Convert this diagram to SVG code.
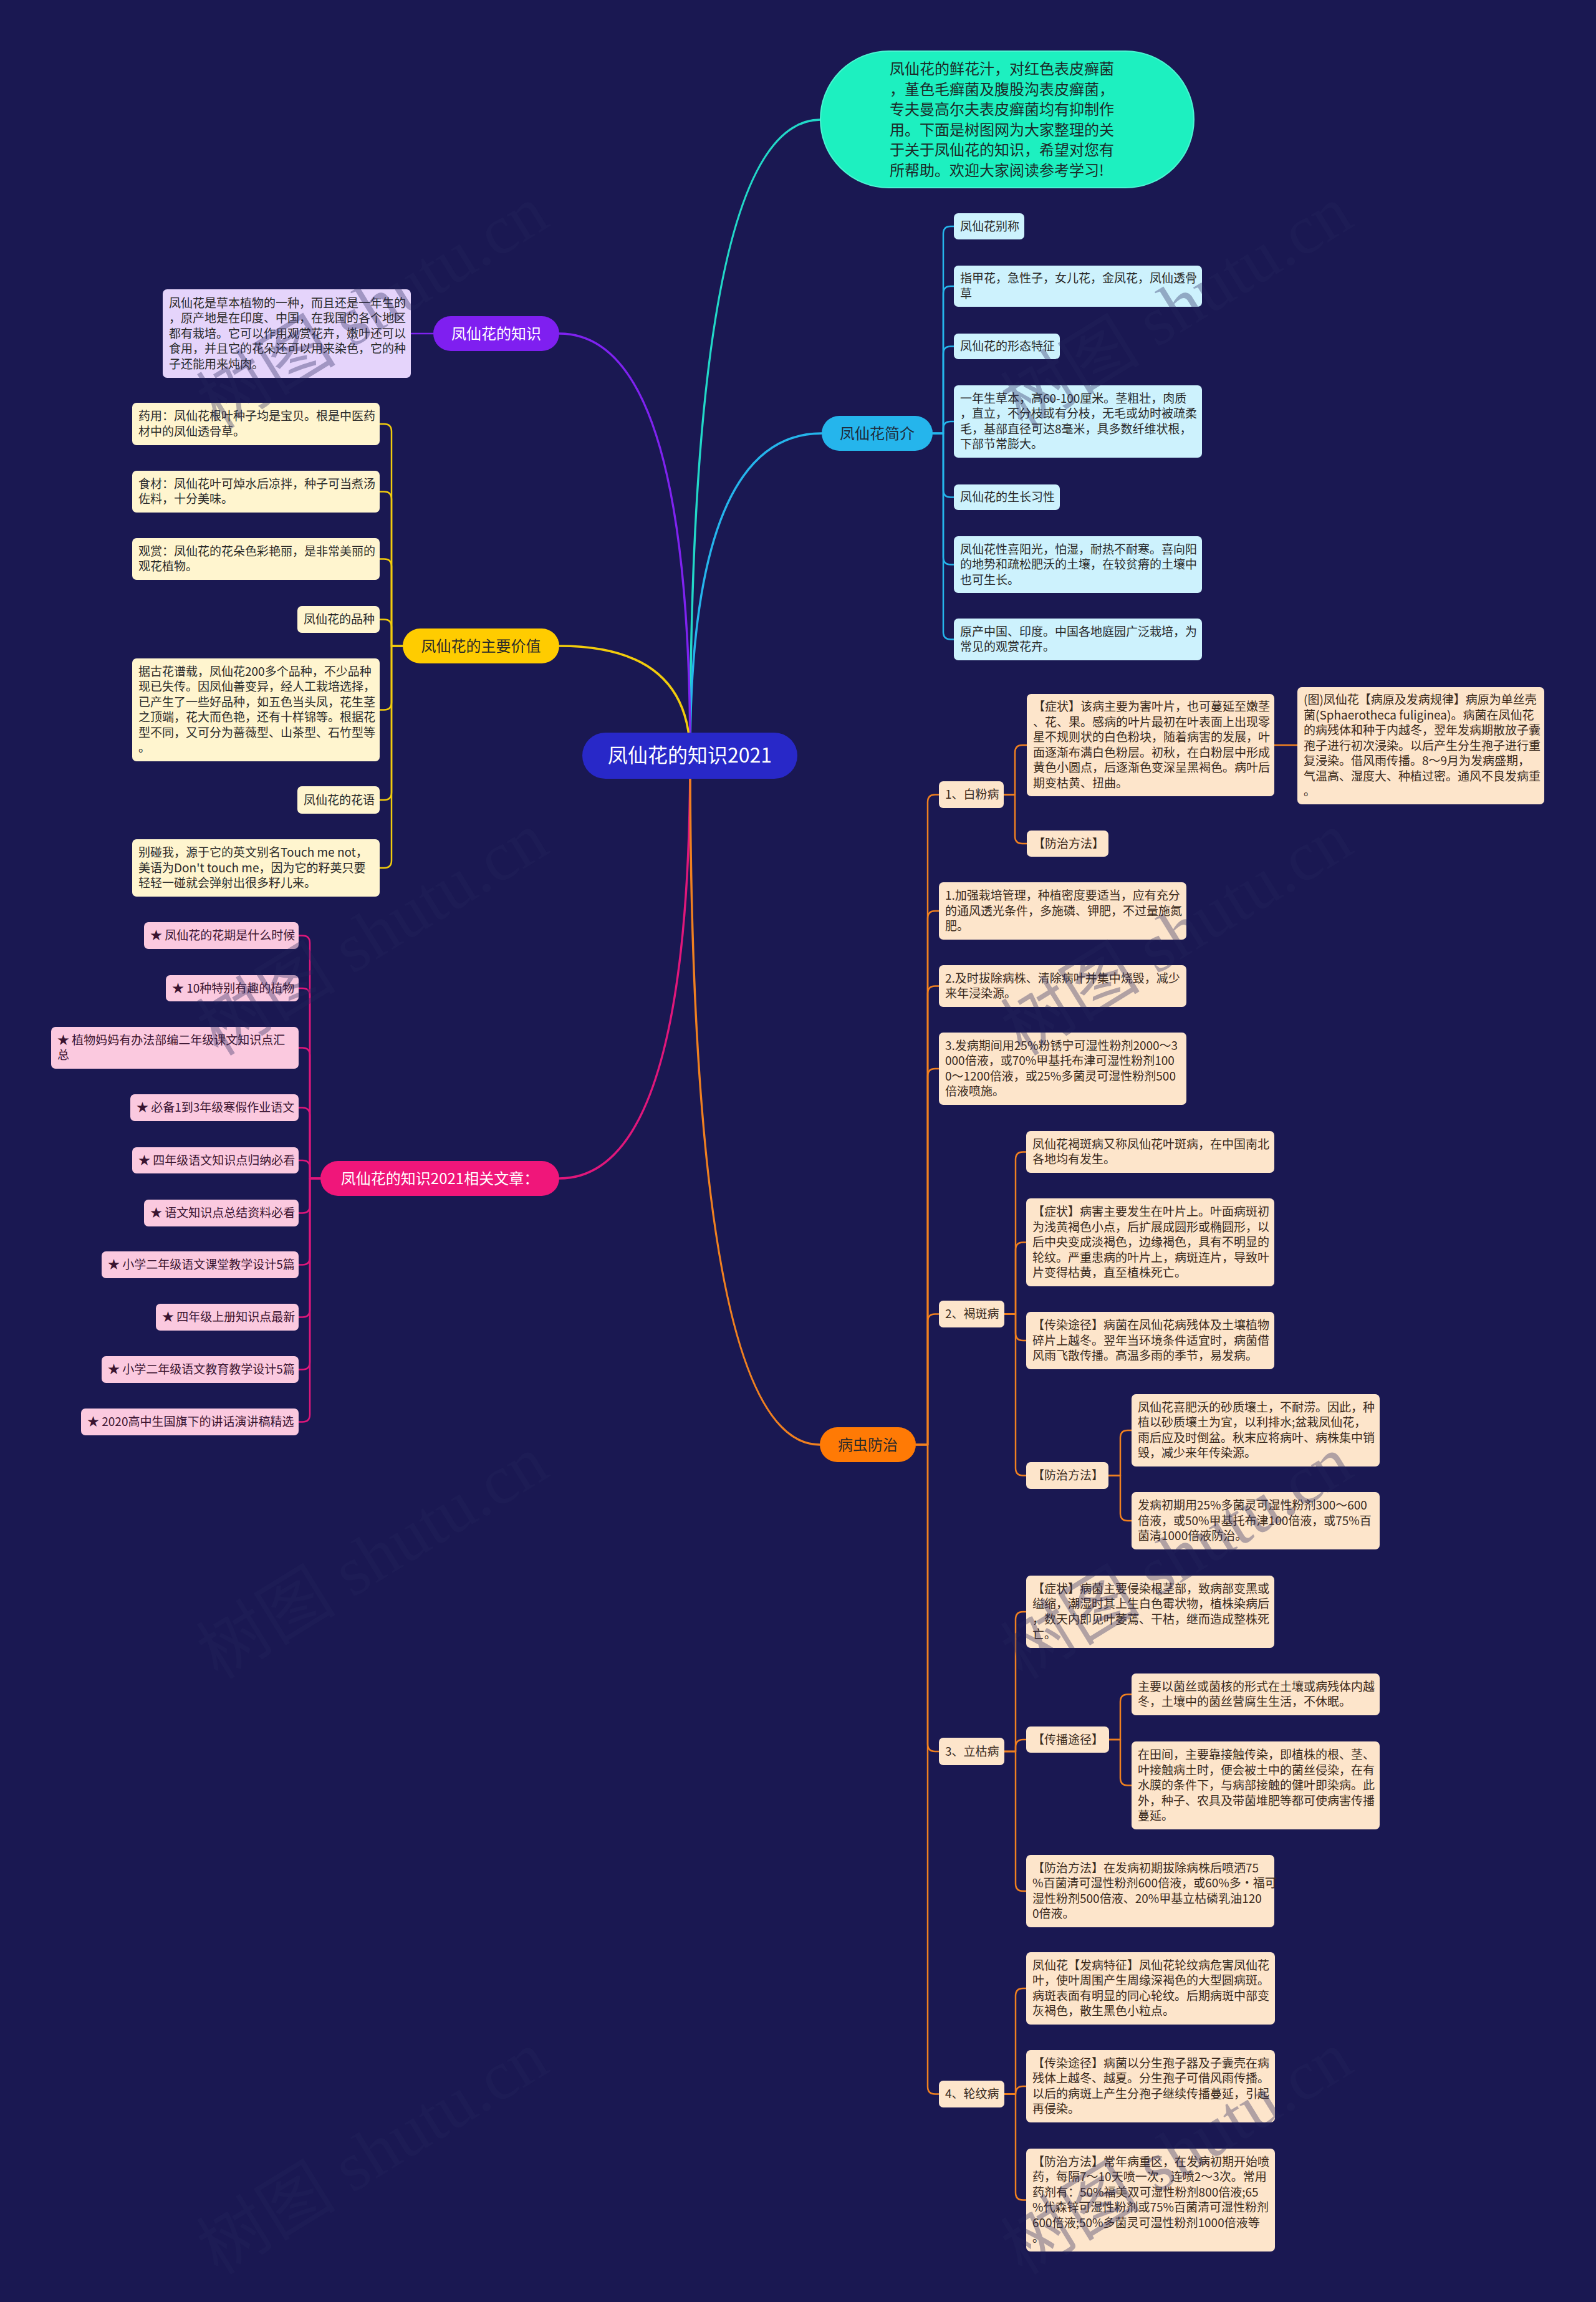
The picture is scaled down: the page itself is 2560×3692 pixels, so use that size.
<svg xmlns="http://www.w3.org/2000/svg" width="2560" height="3692" viewBox="0 0 2560 3692">
<style>
.t{font-family:"Noto Sans CJK SC","Noto Sans",sans-serif;font-size:19px;fill:#2a2a2a}
.to{font-family:"Noto Sans CJK SC","Noto Sans",sans-serif;font-size:19px;fill:#3a2a1c}
.tp{font-family:"Noto Sans CJK SC","Noto Sans",sans-serif;font-size:19px;fill:#3a1430}
.n{font-family:"Noto Sans CJK SC","Noto Sans",sans-serif;font-size:24px;text-anchor:middle}
.root{font-family:"Noto Sans CJK SC","Noto Sans",sans-serif;font-size:32px;text-anchor:middle;fill:#ffffff}
.intro{font-family:"Noto Sans CJK SC","Noto Sans",sans-serif;font-size:24px;fill:#1c2a28}
.lc{fill:#cdf2fd}
.lv{fill:#e5d4fb}
.ly{fill:#fff5cf}
.lp{fill:#fbc9df}
.lo{fill:#fde5cb}
.c{fill:none;stroke-linecap:round;stroke-linejoin:round}
.main{stroke-width:3.5}
.sub{stroke-width:2.5}
.wm{font-family:"Liberation Serif","Noto Sans CJK SC",serif;font-size:112px;fill:#25255c;opacity:0.35}
</style>
<rect x="0" y="0" width="2560" height="3692" fill="#1a1852"/>

<g id="connectors">
  <path class="c main" stroke="#22d8c8" d="M1107 1212 Q1107 192 1316 192"/>
  <path class="c main" stroke="#25b5ec" d="M1107 1212 Q1107 695 1318 695"/>
  <path class="c main" stroke="#7f22f0" d="M1107 1212 Q1107 535 897 535"/>
  <path class="c main" stroke="#f2cc0c" d="M1107 1212 Q1107 1036 897 1036"/>
  <path class="c main" stroke="#e0177b" d="M1107 1212 Q1107 1890 897 1890"/>
  <path class="c main" stroke="#f08020" d="M1107 1212 Q1107 2317 1315 2317"/>

  <path class="c sub" stroke="#7f22f0" d="M695 535 H659"/>

  <g stroke="#25b5ec">
    <path class="c sub" d="M1496 695 H1513 V375 Q1513 363 1525 363 H1530"/>
    <path class="c sub" d="M1496 695 H1513 V471 Q1513 459 1525 459 H1530"/>
    <path class="c sub" d="M1496 695 H1513 V567.5 Q1513 555.5 1525 555.5 H1530"/>
    <path class="c sub" d="M1496 695 H1513 V688 Q1513 676 1525 676 H1530"/>
    <path class="c sub" d="M1496 695 H1513 V785.5 Q1513 797.5 1525 797.5 H1530"/>
    <path class="c sub" d="M1496 695 H1513 V893.5 Q1513 905.5 1525 905.5 H1530"/>
    <path class="c sub" d="M1496 695 H1513 V1013.5 Q1513 1025.5 1525 1025.5 H1530"/>
  </g>

  <g stroke="#f2cc0c">
    <path class="c sub" d="M646 1036 H628 V692 Q628 680 616 680 H609"/>
    <path class="c sub" d="M646 1036 H628 V800.5 Q628 788.5 616 788.5 H609"/>
    <path class="c sub" d="M646 1036 H628 V908.5 Q628 896.5 616 896.5 H609"/>
    <path class="c sub" d="M646 1036 H628 V1005.5 Q628 993.5 616 993.5 H609"/>
    <path class="c sub" d="M646 1036 H628 V1126.5 Q628 1138.5 616 1138.5 H609"/>
    <path class="c sub" d="M646 1036 H628 V1271 Q628 1283 616 1283 H609"/>
    <path class="c sub" d="M646 1036 H628 V1380 Q628 1392 616 1392 H609"/>
  </g>

  <g stroke="#e0177b">
    <path class="c sub" d="M514 1890 H497 V1512.5 Q497 1500.5 485 1500.5 H479"/>
    <path class="c sub" d="M514 1890 H497 V1597 Q497 1585 485 1585 H479"/>
    <path class="c sub" d="M514 1890 H497 V1692.5 Q497 1680.5 485 1680.5 H479"/>
    <path class="c sub" d="M514 1890 H497 V1788.5 Q497 1776.5 485 1776.5 H479"/>
    <path class="c sub" d="M514 1890 H497 V1873 Q497 1861 485 1861 H479"/>
    <path class="c sub" d="M514 1890 H497 V1933.5 Q497 1945.5 485 1945.5 H479"/>
    <path class="c sub" d="M514 1890 H497 V2016.5 Q497 2028.5 485 2028.5 H479"/>
    <path class="c sub" d="M514 1890 H497 V2100.5 Q497 2112.5 485 2112.5 H479"/>
    <path class="c sub" d="M514 1890 H497 V2184.5 Q497 2196.5 485 2196.5 H479"/>
    <path class="c sub" d="M514 1890 H497 V2268.5 Q497 2280.5 485 2280.5 H479"/>
  </g>

  <g stroke="#f08020">
    <path class="c sub" d="M1469 2317 H1488 V1286.5 Q1488 1274.5 1500 1274.5 H1506"/>
    <path class="c sub" d="M1469 2317 H1488 V1473 Q1488 1461 1500 1461 H1506"/>
    <path class="c sub" d="M1469 2317 H1488 V1593.5 Q1488 1581.5 1500 1581.5 H1506"/>
    <path class="c sub" d="M1469 2317 H1488 V1726 Q1488 1714 1500 1714 H1506"/>
    <path class="c sub" d="M1469 2317 H1488 V2119.5 Q1488 2107.5 1500 2107.5 H1506"/>
    <path class="c sub" d="M1469 2317 H1488 V2797 Q1488 2809 1500 2809 H1506"/>
    <path class="c sub" d="M1469 2317 H1488 V3346.5 Q1488 3358.5 1500 3358.5 H1506"/>

    <path class="c sub" d="M1610 1274.5 H1628 V1207 Q1628 1195 1640 1195 H1647"/>
    <path class="c sub" d="M1610 1274.5 H1628 V1341 Q1628 1353 1640 1353 H1647"/>
    <path class="c sub" d="M2044 1195 H2081"/>

    <path class="c sub" d="M1611 2107.5 H1629 V1859.5 Q1629 1847.5 1641 1847.5 H1646"/>
    <path class="c sub" d="M1611 2107.5 H1629 V2004.5 Q1629 1992.5 1641 1992.5 H1646"/>
    <path class="c sub" d="M1611 2107.5 H1629 V2138 Q1629 2150 1641 2150 H1646"/>
    <path class="c sub" d="M1611 2107.5 H1629 V2354.5 Q1629 2366.5 1641 2366.5 H1646"/>
    <path class="c sub" d="M1778 2366.5 H1797 V2306 Q1797 2294 1809 2294 H1815"/>
    <path class="c sub" d="M1778 2366.5 H1797 V2427 Q1797 2439 1809 2439 H1815"/>

    <path class="c sub" d="M1611 2809 H1629 V2597 Q1629 2585 1641 2585 H1646"/>
    <path class="c sub" d="M1611 2809 H1629 V2802 Q1629 2790 1641 2790 H1646"/>
    <path class="c sub" d="M1611 2809 H1629 V3021 Q1629 3033 1641 3033 H1646"/>
    <path class="c sub" d="M1779 2790 H1797 V2729.5 Q1797 2717.5 1809 2717.5 H1815"/>
    <path class="c sub" d="M1779 2790 H1797 V2851.5 Q1797 2863.5 1809 2863.5 H1815"/>

    <path class="c sub" d="M1611 3358.5 H1629 V3201 Q1629 3189 1641 3189 H1646"/>
    <path class="c sub" d="M1611 3358.5 H1629 Q1629 3346 1641 3346 H1646"/>
    <path class="c sub" d="M1611 3358.5 H1629 V3516.5 Q1629 3528.5 1641 3528.5 H1646"/>
  </g>
</g>

<g id="root">
  <rect x="934" y="1175" width="345" height="74" rx="37" fill="#2828c8"/>
  <text class="root" x="1106.5" y="1223">凤仙花的知识2021</text>
</g>

<g id="intro">
  <rect x="1316" y="82" width="599" height="219" rx="109.5" fill="#1df0c0" stroke="#4af5d2" stroke-width="2"/>
  <text class="intro">
    <tspan x="1427" y="119">凤仙花的鲜花汁，对红色表皮癣菌</tspan>
    <tspan x="1427" y="151.5">，堇色毛癣菌及腹股沟表皮癣菌，</tspan>
    <tspan x="1427" y="184">专夫曼高尔夫表皮癣菌均有抑制作</tspan>
    <tspan x="1427" y="216.5">用。下面是树图网为大家整理的关</tspan>
    <tspan x="1427" y="249">于关于凤仙花的知识，希望对您有</tspan>
    <tspan x="1427" y="281.5">所帮助。欢迎大家阅读参考学习!</tspan>
  </text>
</g>

<g id="jianjie">
  <rect x="1318" y="667" width="178" height="56" rx="28" fill="#25b5ec"/>
  <text class="n" x="1407" y="703.5" fill="#1e2a3a">凤仙花简介</text>
</g>
<g id="jj1"><rect class="lc" x="1530" y="342" width="113" height="42" rx="7"/><text class="t" x="1540" y="369.5">凤仙花别称</text></g>
<g id="jj2"><rect class="lc" x="1530" y="426" width="398" height="66" rx="7"/><text class="t"><tspan x="1540" y="453.25">指甲花，急性子，女儿花，金凤花，凤仙透骨</tspan><tspan x="1540" y="477.75">草</tspan></text></g>
<g id="jj3"><rect class="lc" x="1530" y="535" width="170" height="41" rx="7"/><text class="t" x="1540" y="562">凤仙花的形态特征</text></g>
<g id="jj4"><rect class="lc" x="1530" y="618" width="398" height="116" rx="7"/><text class="t"><tspan x="1540" y="645.75">一年生草本，高60-100厘米。茎粗壮，肉质</tspan><tspan x="1540" y="670.25">，直立，不分枝或有分枝，无毛或幼时被疏柔</tspan><tspan x="1540" y="694.75">毛，基部直径可达8毫米，具多数纤维状根，</tspan><tspan x="1540" y="719.25">下部节常膨大。</tspan></text></g>
<g id="jj5"><rect class="lc" x="1530" y="777" width="170" height="41" rx="7"/><text class="t" x="1540" y="804">凤仙花的生长习性</text></g>
<g id="jj6"><rect class="lc" x="1530" y="860" width="398" height="91" rx="7"/><text class="t"><tspan x="1540" y="887.5">凤仙花性喜阳光，怕湿，耐热不耐寒。喜向阳</tspan><tspan x="1540" y="912">的地势和疏松肥沃的土壤，在较贫瘠的土壤中</tspan><tspan x="1540" y="936.5">也可生长。</tspan></text></g>
<g id="jj7"><rect class="lc" x="1530" y="992" width="398" height="67" rx="7"/><text class="t"><tspan x="1540" y="1019.75">原产中国、印度。中国各地庭园广泛栽培，为</tspan><tspan x="1540" y="1044.25">常见的观赏花卉。</tspan></text></g>

<g id="zhishi">
  <rect x="695" y="507" width="202" height="56" rx="28" fill="#7f1ff0"/>
  <text class="n" x="796" y="543.5" fill="#ffffff">凤仙花的知识</text>
</g>
<g id="zs1"><rect class="lv" x="261" y="464" width="398" height="142" rx="7"/><text class="t"><tspan x="271" y="492.5">凤仙花是草本植物的一种，而且还是一年生的</tspan><tspan x="271" y="517">，原产地是在印度、中国，在我国的各个地区</tspan><tspan x="271" y="541.5">都有栽培。它可以作用观赏花卉，嫩叶还可以</tspan><tspan x="271" y="566">食用，并且它的花朵还可以用来染色，它的种</tspan><tspan x="271" y="590.5">子还能用来炖肉。</tspan></text></g>

<g id="jiazhi">
  <rect x="646" y="1008" width="251" height="56" rx="28" fill="#ffcc00"/>
  <text class="n" x="771.5" y="1044.5" fill="#2a2a2a">凤仙花的主要价值</text>
</g>
<g id="jz1"><rect class="ly" x="212" y="646" width="397" height="68" rx="7"/><text class="t"><tspan x="222" y="674.25">药用：凤仙花根叶种子均是宝贝。根是中医药</tspan><tspan x="222" y="698.75">材中的凤仙透骨草。</tspan></text></g>
<g id="jz2"><rect class="ly" x="212" y="755" width="397" height="67" rx="7"/><text class="t"><tspan x="222" y="782.75">食材：凤仙花叶可焯水后凉拌，种子可当煮汤</tspan><tspan x="222" y="807.25">佐料，十分美味。</tspan></text></g>
<g id="jz3"><rect class="ly" x="212" y="863" width="397" height="67" rx="7"/><text class="t"><tspan x="222" y="890.75">观赏：凤仙花的花朵色彩艳丽，是非常美丽的</tspan><tspan x="222" y="915.25">观花植物。</tspan></text></g>
<g id="jz4"><rect class="ly" x="477" y="972" width="132" height="43" rx="7"/><text class="t" x="487" y="1000">凤仙花的品种</text></g>
<g id="jz5"><rect class="ly" x="212" y="1056" width="397" height="165" rx="7"/><text class="t"><tspan x="222" y="1083.75">据古花谱载，凤仙花200多个品种，不少品种</tspan><tspan x="222" y="1108.25">现已失传。因凤仙善变异，经人工栽培选择，</tspan><tspan x="222" y="1132.75">已产生了一些好品种，如五色当头凤，花生茎</tspan><tspan x="222" y="1157.25">之顶端，花大而色艳，还有十样锦等。根据花</tspan><tspan x="222" y="1181.75">型不同，又可分为蔷薇型、山茶型、石竹型等</tspan><tspan x="222" y="1206.25">。</tspan></text></g>
<g id="jz6"><rect class="ly" x="477" y="1261" width="132" height="44" rx="7"/><text class="t" x="487" y="1289.5">凤仙花的花语</text></g>
<g id="jz7"><rect class="ly" x="212" y="1346" width="397" height="92" rx="7"/><text class="t"><tspan x="222" y="1374">别碰我，源于它的英文别名Touch me not，</tspan><tspan x="222" y="1398.5">美语为Don't touch me，因为它的籽荚只要</tspan><tspan x="222" y="1423">轻轻一碰就会弹射出很多籽儿来。</tspan></text></g>

<g id="wenzhang">
  <rect x="514" y="1862" width="383" height="56" rx="28" fill="#f0167a"/>
  <text class="n" x="705.5" y="1898.5" fill="#ffffff">凤仙花的知识2021相关文章：</text>
</g>
<g id="wz1"><rect class="lp" x="231" y="1479" width="248" height="43" rx="7"/><text class="tp" x="241" y="1507">★ 凤仙花的花期是什么时候</text></g>
<g id="wz2"><rect class="lp" x="266" y="1564" width="213" height="42" rx="7"/><text class="tp" x="276" y="1591.5">★ 10种特别有趣的植物</text></g>
<g id="wz3"><rect class="lp" x="82" y="1647" width="397" height="67" rx="7"/><text class="tp"><tspan x="92" y="1674.75">★ 植物妈妈有办法部编二年级课文知识点汇</tspan><tspan x="92" y="1699.25">总</tspan></text></g>
<g id="wz4"><rect class="lp" x="209" y="1755" width="270" height="43" rx="7"/><text class="tp" x="219" y="1783">★ 必备1到3年级寒假作业语文</text></g>
<g id="wz5"><rect class="lp" x="212" y="1840" width="267" height="42" rx="7"/><text class="tp" x="222" y="1867.5">★ 四年级语文知识点归纳必看</text></g>
<g id="wz6"><rect class="lp" x="231" y="1924" width="248" height="43" rx="7"/><text class="tp" x="241" y="1952">★ 语文知识点总结资料必看</text></g>
<g id="wz7"><rect class="lp" x="163" y="2007" width="316" height="43" rx="7"/><text class="tp" x="173" y="2035">★ 小学二年级语文课堂教学设计5篇</text></g>
<g id="wz8"><rect class="lp" x="250" y="2091" width="229" height="43" rx="7"/><text class="tp" x="260" y="2119">★ 四年级上册知识点最新</text></g>
<g id="wz9"><rect class="lp" x="163" y="2175" width="316" height="43" rx="7"/><text class="tp" x="173" y="2203">★ 小学二年级语文教育教学设计5篇</text></g>
<g id="wz10"><rect class="lp" x="130" y="2259" width="349" height="43" rx="7"/><text class="tp" x="140" y="2287">★ 2020高中生国旗下的讲话演讲稿精选</text></g>

<g id="bingchong">
  <rect x="1315" y="2289" width="154" height="56" rx="28" fill="#ff7a05"/>
  <text class="n" x="1392" y="2325.5" fill="#2a2a2a">病虫防治</text>
</g>

<g id="bfb"><rect class="lo" x="1506" y="1253" width="104" height="43" rx="7"/><text class="to" x="1516" y="1281">1、白粉病</text></g>
<g id="bfb1"><rect class="lo" x="1647" y="1113" width="397" height="164" rx="7"/><text class="to"><tspan x="1657" y="1140.25">【症状】该病主要为害叶片，也可蔓延至嫩茎</tspan><tspan x="1657" y="1164.75">、花、果。感病的叶片最初在叶表面上出现零</tspan><tspan x="1657" y="1189.25">星不规则状的白色粉块，随着病害的发展，叶</tspan><tspan x="1657" y="1213.75">面逐渐布满白色粉层。初秋，在白粉层中形成</tspan><tspan x="1657" y="1238.25">黄色小圆点，后逐渐色变深呈黑褐色。病叶后</tspan><tspan x="1657" y="1262.75">期变枯黄、扭曲。</tspan></text></g>
<g id="bfb1a"><rect class="lo" x="2081" y="1102" width="396" height="188" rx="7"/><text class="to"><tspan x="2091" y="1129">(图)凤仙花【病原及发病规律】病原为单丝壳</tspan><tspan x="2091" y="1153.5">菌(Sphaerotheca fuliginea)。病菌在凤仙花</tspan><tspan x="2091" y="1178">的病残体和种于内越冬，翌年发病期散放子囊</tspan><tspan x="2091" y="1202.5">孢子进行初次浸染。以后产生分生孢子进行重</tspan><tspan x="2091" y="1227">复浸染。借风雨传播。8～9月为发病盛期，</tspan><tspan x="2091" y="1251.5">气温高、湿度大、种植过密。通风不良发病重</tspan><tspan x="2091" y="1276">。</tspan></text></g>
<g id="bfb2"><rect class="lo" x="1647" y="1332" width="131" height="42" rx="7"/><text class="to" x="1657" y="1359.5">【防治方法】</text></g>

<g id="fz1"><rect class="lo" x="1506" y="1415" width="397" height="92" rx="7"/><text class="to"><tspan x="1516" y="1443">1.加强栽培管理，种植密度要适当，应有充分</tspan><tspan x="1516" y="1467.5">的通风透光条件，多施磷、钾肥，不过量施氮</tspan><tspan x="1516" y="1492">肥。</tspan></text></g>
<g id="fz2"><rect class="lo" x="1506" y="1548" width="397" height="67" rx="7"/><text class="to"><tspan x="1516" y="1575.75">2.及时拔除病株、清除病叶并集中烧毁，减少</tspan><tspan x="1516" y="1600.25">来年浸染源。</tspan></text></g>
<g id="fz3"><rect class="lo" x="1506" y="1656" width="397" height="116" rx="7"/><text class="to"><tspan x="1516" y="1683.75">3.发病期间用25%粉锈宁可湿性粉剂2000～3</tspan><tspan x="1516" y="1708.25">000倍液，或70%甲基托布津可湿性粉剂100</tspan><tspan x="1516" y="1732.75">0～1200倍液，或25%多菌灵可湿性粉剂500</tspan><tspan x="1516" y="1757.25">倍液喷施。</tspan></text></g>

<g id="hbb"><rect class="lo" x="1506" y="2086" width="105" height="43" rx="7"/><text class="to" x="1516" y="2114">2、褐斑病</text></g>
<g id="hbb1"><rect class="lo" x="1646" y="1814" width="398" height="67" rx="7"/><text class="to"><tspan x="1656" y="1841.75">凤仙花褐斑病又称凤仙花叶斑病，在中国南北</tspan><tspan x="1656" y="1866.25">各地均有发生。</tspan></text></g>
<g id="hbb2"><rect class="lo" x="1646" y="1922" width="398" height="141" rx="7"/><text class="to"><tspan x="1656" y="1950">【症状】病害主要发生在叶片上。叶面病斑初</tspan><tspan x="1656" y="1974.5">为浅黄褐色小点，后扩展成圆形或椭圆形，以</tspan><tspan x="1656" y="1999">后中央变成淡褐色，边缘褐色，具有不明显的</tspan><tspan x="1656" y="2023.5">轮纹。严重患病的叶片上，病斑连片，导致叶</tspan><tspan x="1656" y="2048">片变得枯黄，直至植株死亡。</tspan></text></g>
<g id="hbb3"><rect class="lo" x="1646" y="2104" width="398" height="92" rx="7"/><text class="to"><tspan x="1656" y="2132">【传染途径】病菌在凤仙花病残体及土壤植物</tspan><tspan x="1656" y="2156.5">碎片上越冬。翌年当环境条件适宜时，病菌借</tspan><tspan x="1656" y="2181">风雨飞散传播。高温多雨的季节，易发病。</tspan></text></g>
<g id="hbb4"><rect class="lo" x="1646" y="2345" width="132" height="43" rx="7"/><text class="to" x="1656" y="2373">【防治方法】</text></g>
<g id="hbb4a"><rect class="lo" x="1815" y="2236" width="398" height="116" rx="7"/><text class="to"><tspan x="1825" y="2263.75">凤仙花喜肥沃的砂质壤土，不耐涝。因此，种</tspan><tspan x="1825" y="2288.25">植以砂质壤土为宜，以利排水;盆栽凤仙花，</tspan><tspan x="1825" y="2312.75">雨后应及时倒盆。秋末应将病叶、病株集中销</tspan><tspan x="1825" y="2337.25">毁，减少来年传染源。</tspan></text></g>
<g id="hbb4b"><rect class="lo" x="1815" y="2393" width="398" height="92" rx="7"/><text class="to"><tspan x="1825" y="2421">发病初期用25%多菌灵可湿性粉剂300～600</tspan><tspan x="1825" y="2445.5">倍液，或50%甲基托布津100倍液，或75%百</tspan><tspan x="1825" y="2470">菌清1000倍液防治。</tspan></text></g>

<g id="lkb"><rect class="lo" x="1506" y="2787" width="105" height="44" rx="7"/><text class="to" x="1516" y="2815.5">3、立枯病</text></g>
<g id="lkb1"><rect class="lo" x="1646" y="2527" width="398" height="116" rx="7"/><text class="to"><tspan x="1656" y="2554.75">【症状】病菌主要侵染根茎部，致病部变黑或</tspan><tspan x="1656" y="2579.25">缢缩，潮湿时其上生白色霉状物，植株染病后</tspan><tspan x="1656" y="2603.75">，数天内即见叶萎蔫、干枯，继而造成整株死</tspan><tspan x="1656" y="2628.25">亡。</tspan></text></g>
<g id="lkb2"><rect class="lo" x="1646" y="2769" width="133" height="42" rx="7"/><text class="to" x="1656" y="2796.5">【传播途径】</text></g>
<g id="lkb2a"><rect class="lo" x="1815" y="2684" width="398" height="67" rx="7"/><text class="to"><tspan x="1825" y="2711.75">主要以菌丝或菌核的形式在土壤或病残体内越</tspan><tspan x="1825" y="2736.25">冬，土壤中的菌丝营腐生生活，不休眠。</tspan></text></g>
<g id="lkb2b"><rect class="lo" x="1815" y="2793" width="398" height="141" rx="7"/><text class="to"><tspan x="1825" y="2821">在田间，主要靠接触传染，即植株的根、茎、</tspan><tspan x="1825" y="2845.5">叶接触病土时，便会被土中的菌丝侵染，在有</tspan><tspan x="1825" y="2870">水膜的条件下，与病部接触的健叶即染病。此</tspan><tspan x="1825" y="2894.5">外，种子、农具及带菌堆肥等都可使病害传播</tspan><tspan x="1825" y="2919">蔓延。</tspan></text></g>
<g id="lkb3"><rect class="lo" x="1646" y="2975" width="398" height="116" rx="7"/><text class="to"><tspan x="1656" y="3002.75">【防治方法】在发病初期拔除病株后喷洒75</tspan><tspan x="1656" y="3027.25">%百菌清可湿性粉剂600倍液，或60%多·福可</tspan><tspan x="1656" y="3051.75">湿性粉剂500倍液、20%甲基立枯磷乳油120</tspan><tspan x="1656" y="3076.25">0倍液。</tspan></text></g>

<g id="lwb"><rect class="lo" x="1506" y="3337" width="105" height="43" rx="7"/><text class="to" x="1516" y="3365">4、轮纹病</text></g>
<g id="lwb1"><rect class="lo" x="1646" y="3131" width="399" height="116" rx="7"/><text class="to"><tspan x="1656" y="3158.75">凤仙花【发病特征】凤仙花轮纹病危害凤仙花</tspan><tspan x="1656" y="3183.25">叶，使叶周围产生周缘深褐色的大型圆病斑。</tspan><tspan x="1656" y="3207.75">病斑表面有明显的同心轮纹。后期病斑中部变</tspan><tspan x="1656" y="3232.25">灰褐色，散生黑色小粒点。</tspan></text></g>
<g id="lwb2"><rect class="lo" x="1646" y="3288" width="399" height="116" rx="7"/><text class="to"><tspan x="1656" y="3315.75">【传染途径】病菌以分生孢子器及子囊壳在病</tspan><tspan x="1656" y="3340.25">残体上越冬、越夏。分生孢子可借风雨传播。</tspan><tspan x="1656" y="3364.75">以后的病斑上产生分孢子继续传播蔓延，引起</tspan><tspan x="1656" y="3389.25">再侵染。</tspan></text></g>
<g id="lwb3"><rect class="lo" x="1646" y="3446" width="399" height="165" rx="7"/><text class="to"><tspan x="1656" y="3473.75">【防治方法】常年病重区，在发病初期开始喷</tspan><tspan x="1656" y="3498.25">药，每隔7～10天喷一次，连喷2～3次。常用</tspan><tspan x="1656" y="3522.75">药剂有：50%福美双可湿性粉剂800倍液;65</tspan><tspan x="1656" y="3547.25">%代森锌可湿性粉剂或75%百菌清可湿性粉剂</tspan><tspan x="1656" y="3571.75">600倍液;50%多菌灵可湿性粉剂1000倍液等</tspan><tspan x="1656" y="3596.25">。</tspan></text></g>

<g id="watermarks">
  <text class="wm" transform="translate(350 690) rotate(-31.6)">树图 shutu.cn</text>
  <text class="wm" transform="translate(1640 690) rotate(-31.6)">树图 shutu.cn</text>
  <text class="wm" transform="translate(350 1695) rotate(-31.6)">树图 shutu.cn</text>
  <text class="wm" transform="translate(1640 1695) rotate(-31.6)">树图 shutu.cn</text>
  <text class="wm" transform="translate(350 2695) rotate(-31.6)">树图 shutu.cn</text>
  <text class="wm" transform="translate(1640 2695) rotate(-31.6)">树图 shutu.cn</text>
  <text class="wm" transform="translate(350 3650) rotate(-31.6)">树图 shutu.cn</text>
  <text class="wm" transform="translate(1640 3650) rotate(-31.6)">树图 shutu.cn</text>
</g>
</svg>
